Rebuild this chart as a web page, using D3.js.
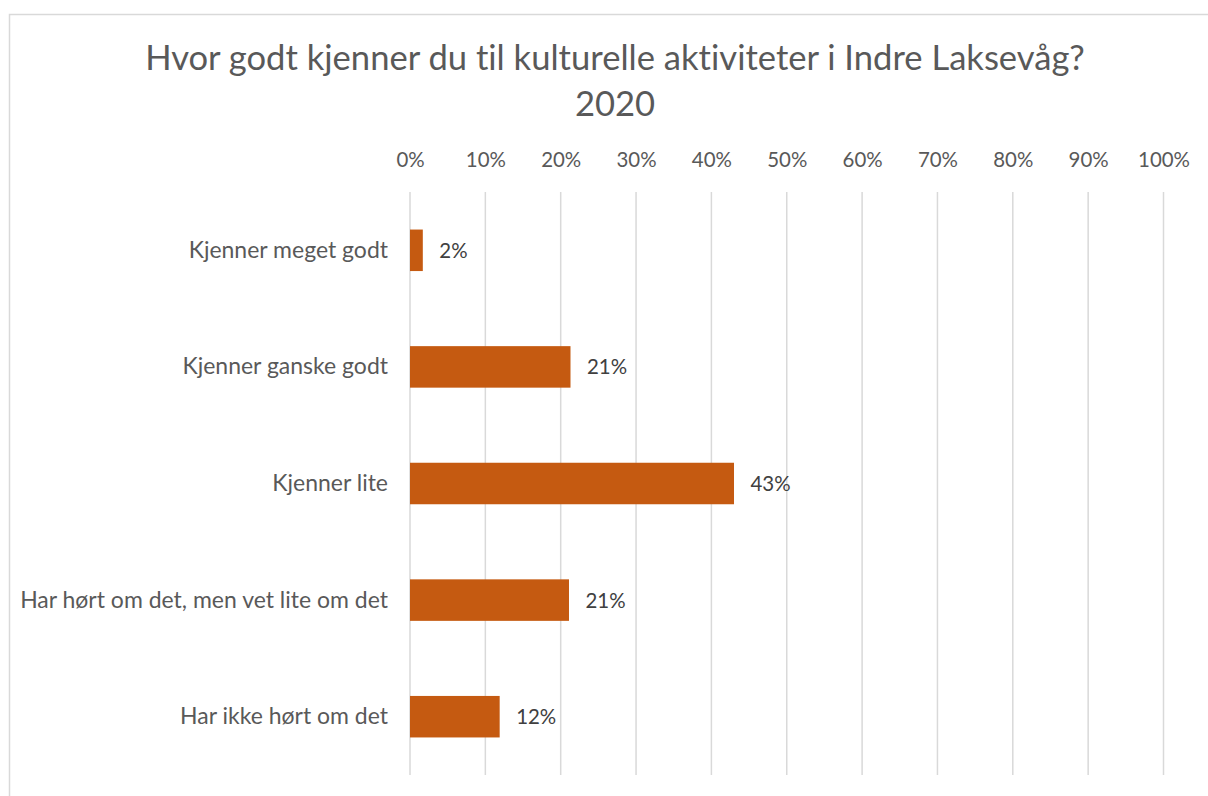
<!DOCTYPE html>
<html><head><meta charset="utf-8">
<script src="https://cdn.jsdelivr.net/npm/d3@7"></script>
<style>html,body{margin:0;padding:0;background:#fff;overflow:hidden}svg{display:block}text{font-variant-ligatures:none;font-feature-settings:"liga" 0}</style>
</head><body>
<script>
const titleLines = ["Hvor godt kjenner du til kulturelle aktiviteter i Indre Laksevåg?", "2020"];
const categories = ["Kjenner meget godt", "Kjenner ganske godt", "Kjenner lite", "Har hørt om det, men vet lite om det", "Har ikke hørt om det"];
const values = [0.017, 0.213, 0.43, 0.211, 0.119];
const valueLabels = ["2%", "21%", "43%", "21%", "12%"];
const tickValues = [0, 0.1, 0.2, 0.3, 0.4, 0.5, 0.6, 0.7, 0.8, 0.9, 1.0];

const W = 1208, H = 796;
const font = "Lato, 'Open Sans', sans-serif";
const svg = d3.select("body").append("svg").attr("width", W).attr("height", H);

svg.append("rect").attr("x", 9.5).attr("y", 14.5).attr("width", W + 20).attr("height", H + 20)
  .attr("fill", "#fff").attr("stroke", "#D9D9D9").attr("stroke-width", 1.5);

const x = d3.scaleLinear().domain([0, 1]).range([410, 1163.5]);
const y = d3.scaleBand().domain(categories).range([192, 775]).paddingInner(0.644).paddingOuter(0.322);

function fit(sel, target) {
  const w = sel.node().getComputedTextLength();
  const fs = parseFloat(sel.attr("font-size"));
  return fs * target / w;
}

// title
const t1 = svg.append("text").attr("x", 615).attr("y", 70).attr("text-anchor", "middle")
  .attr("font-family", font).attr("font-size", 32).attr("fill", "#595959").text(titleLines[0]);
const tfs = fit(t1, 940);
t1.attr("font-size", tfs);
svg.append("text").attr("x", 615).attr("y", 116).attr("text-anchor", "middle")
  .attr("font-family", font).attr("font-size", tfs).attr("fill", "#595959").text(titleLines[1]);

// grid
svg.append("g").selectAll("line").data(tickValues).join("line")
  .attr("x1", d => x(d)).attr("x2", d => x(d)).attr("y1", 192).attr("y2", 775)
  .attr("stroke", "#D9D9D9").attr("stroke-width", 1.5);

// top axis
const axis = d3.axisTop(x).tickValues(tickValues).tickFormat(d3.format(".0%")).tickSize(0).tickPadding(0);
const ag = svg.append("g").attr("transform", "translate(0,167)").call(axis);
ag.select(".domain").remove();
const probe = svg.append("text").attr("font-family", font).attr("font-size", 20).text("100%");
const tickFs = fit(probe, 52);
probe.remove();
ag.selectAll("text").attr("font-family", font).attr("font-size", tickFs).attr("fill", "#595959").attr("dy", 0);

// category labels
const cl = svg.append("g").selectAll("text").data(categories).join("text")
  .attr("x", 388).attr("y", d => y(d) + y.bandwidth() / 2 + 7.5).attr("text-anchor", "end")
  .attr("font-family", font).attr("font-size", 20).attr("fill", "#595959").text(d => d);
const catFs = fit(d3.select(cl.nodes()[3]), 368);
cl.attr("font-size", catFs);

// bars
svg.append("g").selectAll("rect").data(values).join("rect")
  .attr("x", x(0)).attr("y", (d, i) => y(categories[i]))
  .attr("width", d => x(d) - x(0)).attr("height", y.bandwidth())
  .attr("fill", "#C55A11");

// data labels
svg.append("g").selectAll("text").data(values).join("text")
  .attr("x", d => x(d) + 16.5).attr("y", (d, i) => y(categories[i]) + y.bandwidth() / 2 + 7.5)
  .attr("font-family", font).attr("font-size", tickFs).attr("fill", "#404040")
  .text((d, i) => valueLabels[i]);
</script>
</body></html>
